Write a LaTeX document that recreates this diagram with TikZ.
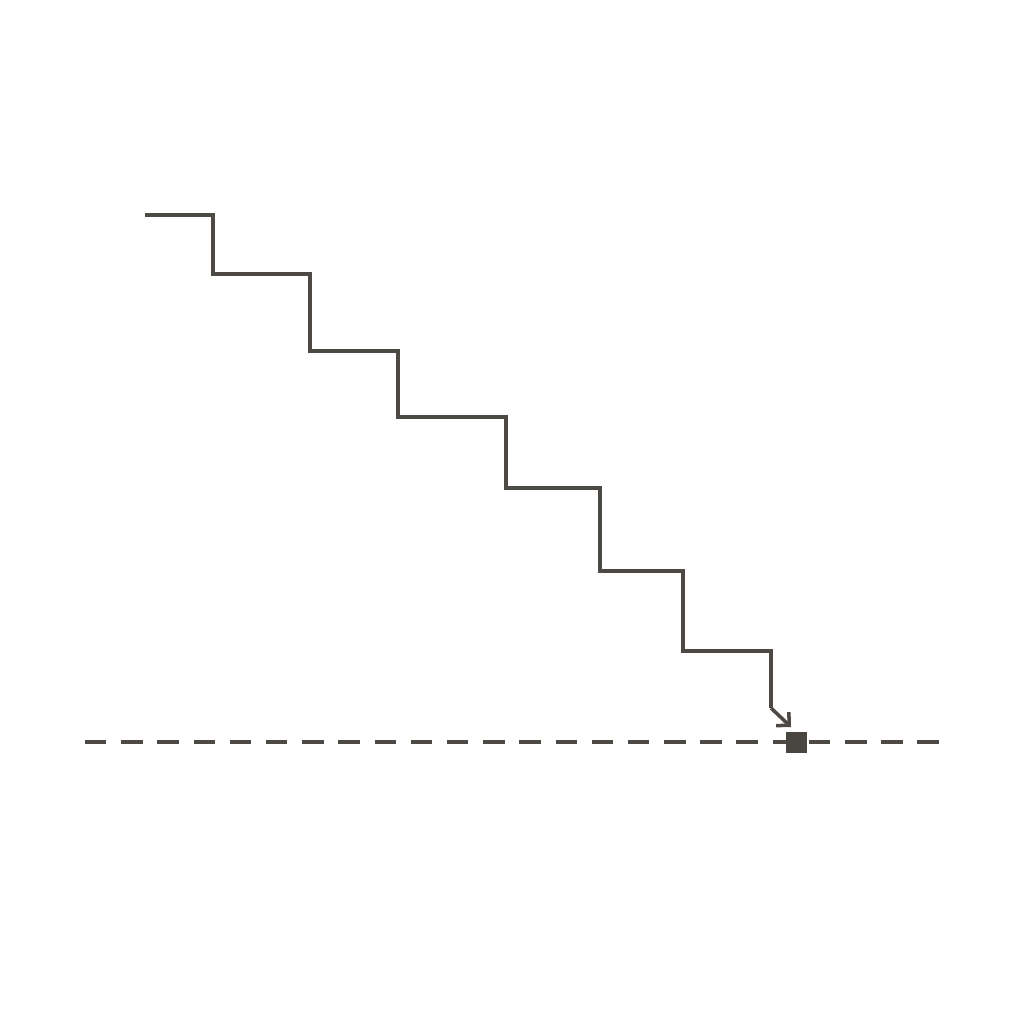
\documentclass[tikz,border=0pt]{standalone}
\usetikzlibrary{arrows.meta,positioning}
\definecolor{inkgray}{HTML}{4D4944}

\begin{document}
\begin{tikzpicture}[x=0.02cm,y=-0.02cm,line width=2pt,inkgray,
	stairline/.style={draw=inkgray,line join=miter},
	groundline/.style={draw=inkgray,dash pattern=on 0.43cm off 0.294cm},
	goalbox/.style={draw=none,fill=inkgray!95!black,minimum size=0.42cm,inner sep=0pt}]
	\useasboundingbox (0,0) rectangle (1024,1024);
	\coordinate (groundL) at (85,742);
	\coordinate (groundR) at (940,742);
	\draw[groundline] (groundL)--(groundR);
	\node[goalbox] (goal) at (796,742) {};
	\coordinate (start) at (145,215);
	\coordinate (bend) at (771,708);
	\coordinate (tip) at (791,727);
	\draw[stairline] (start)--(213,215)--(213,274)--(310,274)--(310,351)--(398,351)--(398,417)
		--(506,417)--(506,488)--(600,488)--(600,571)--(683,571)--(683,651)--(771,651)--(bend);
	\draw[stairline,-{Straight Barb[angle=90:7.5pt]}] (bend)--(tip);
\end{tikzpicture}
\end{document}
